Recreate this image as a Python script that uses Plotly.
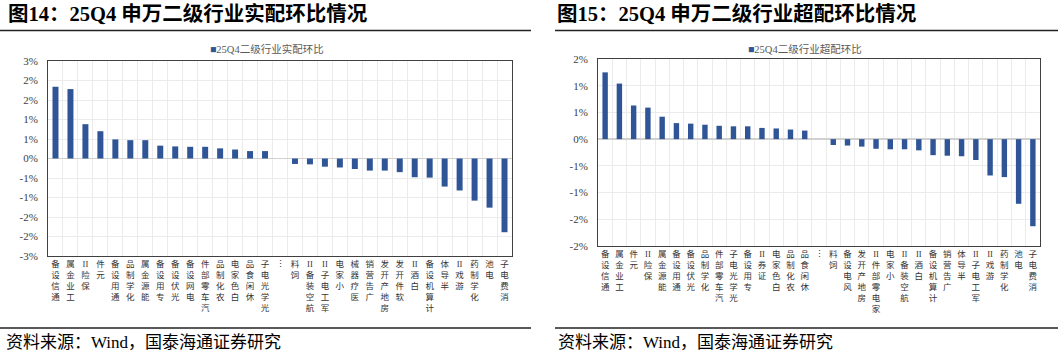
import plotly.graph_objects as go

W, H = 1062, 355

# ---------------- data ----------------
title_left = "图14：25Q4 申万二级行业实配环比情况"
title_right = "图15：25Q4 申万二级行业超配环比情况"
series_left = "25Q4二级行业实配环比"
series_right = "25Q4二级行业超配环比"
source_text = "资料来源：Wind，国泰海通证券研究"

cats_left = ["通信设备", "工业金属", "保险II", "元件", "通用设备", "化学制品", "能源金属",
             "专用设备", "光伏设备", "电网设备", "汽车零部件", "农化制品", "白色家电", "休闲食品",
             "光学光电子", "…", "饲料", "航空装备II", "军工电子II", "小家电", "医疗器械", "广告营销",
             "房地产开发", "软件开发", "白酒II", "计算机设备", "半导体", "游戏II", "化学制药", "电池",
             "消费电子"]
vals_left = [1.84, 1.78, 0.88, 0.70, 0.49, 0.47, 0.47, 0.33, 0.31, 0.30, 0.30, 0.26, 0.23, 0.19,
             0.19, None, -0.14, -0.15, -0.21, -0.23, -0.27, -0.31, -0.31, -0.35, -0.48, -0.49,
             -0.72, -0.82, -1.08, -1.26, -1.89]

cats_right = ["通信设备", "工业金属", "元件", "保险II", "能源金属", "通用设备", "光伏设备",
              "化学制品", "汽车零部件", "光学光电子", "专用设备", "证券II", "白色家电", "农化制品",
              "休闲食品", "…", "饲料", "风电设备", "房地产开发", "家电零部件II", "小家电", "航空装备II",
              "白酒II", "计算机设备", "广告营销", "半导体", "军工电子II", "游戏II", "化学制药", "电池",
              "消费电子"]
vals_right = [1.25, 1.04, 0.63, 0.59, 0.42, 0.30, 0.29, 0.27, 0.25, 0.24, 0.24, 0.21, 0.20, 0.18,
              0.16, None, -0.11, -0.12, -0.14, -0.18, -0.19, -0.19, -0.21, -0.30, -0.31, -0.32,
              -0.39, -0.68, -0.71, -1.21, -1.63]

yticks_left = [-2.5, -2.0, -1.5, -1.0, -0.5, 0.0, 0.5, 1.0, 1.5, 2.0, 2.5]
ytext_left = ["-3%", "-2%", "-2%", "-1%", "-1%", "0%", "1%", "1%", "2%", "2%", "3%"]
yticks_right = [-2.0, -1.5, -1.0, -0.5, 0.0, 0.5, 1.0, 1.5]
ytext_right = ["-2%", "-2%", "-1%", "-1%", "0%", "1%", "1%", "2%"]

# ---------------- style ----------------
BAR = "#2f5597"
CJK_SERIF = "Liberation Serif, Noto Sans CJK SC"
AXIS_LINE = "#404040"
GRID = "#ebebeb"


def vertical_label(name):
    """Stack characters upright, reading bottom-to-top (last char at top)."""
    if name == "…":
        return "⋮"
    tokens = []
    i = 0
    while i < len(name):
        if name[i:i + 2] == "II":
            tokens.append("II")
            i += 2
        else:
            tokens.append(name[i])
            i += 1
    return "<br>".join(reversed(tokens))


def px_x(p):
    return p / W


def px_y(p):
    return 1 - p / H


fig = go.Figure()
fig.add_trace(go.Bar(x=cats_left, y=vals_left, name=series_left, marker_color=BAR,
                     marker_line_width=0, width=0.4, xaxis="x", yaxis="y", showlegend=False))
fig.add_trace(go.Bar(x=cats_right, y=vals_right, name=series_right, marker_color=BAR,
                     marker_line_width=0, width=0.38, xaxis="x2", yaxis="y2", showlegend=False))

xcommon = dict(type="category", tickson="boundaries", ticks="", showgrid=True, gridcolor=GRID,
               gridwidth=1, showline=True, mirror=True, linecolor=AXIS_LINE, linewidth=1,
               tickangle=0, tickfont=dict(family=CJK_SERIF, size=8.5, color="#333333"),
               automargin=False, fixedrange=True)
ycommon = dict(ticks="", showgrid=True, gridcolor=GRID, gridwidth=1, showline=True, mirror=True,
               linecolor=AXIS_LINE, linewidth=1, zeroline=True, zerolinecolor="#d0d0d0",
               zerolinewidth=1.5, tickfont=dict(family="Liberation Serif", size=11, color="#404040"),
               ticklabelstandoff=7, automargin=False, fixedrange=True)

fig.update_layout(
    width=W, height=H, autosize=False,
    margin=dict(l=0, r=0, t=0, b=0),
    paper_bgcolor="white", plot_bgcolor="white",
    hovermode=False,
    xaxis=dict(xcommon, domain=[px_x(48), px_x(512)], anchor="y",
               tickvals=cats_left, ticktext=[vertical_label(c) for c in cats_left]),
    yaxis=dict(ycommon, domain=[px_y(256), px_y(61)], anchor="x", range=[-2.5, 2.5],
               tickvals=yticks_left, ticktext=ytext_left),
    xaxis2=dict(xcommon, domain=[px_x(598), px_x(1040)], anchor="y2",
                tickvals=cats_right, ticktext=[vertical_label(c) for c in cats_right]),
    yaxis2=dict(ycommon, domain=[px_y(246), px_y(59)], anchor="x2", range=[-2.0, 1.5],
                tickvals=yticks_right, ticktext=ytext_right),
)

annotations = []
# titles
for x0, txt in [(6, title_left), (555, title_right)]:
    annotations.append(dict(x=px_x(x0), y=px_y(14), xref="paper", yref="paper", xanchor="left",
                            yanchor="middle", showarrow=False, text=txt,
                            font=dict(family=CJK_SERIF, size=20.5, color="#000000", weight="bold")))
# legends
for xc, txt in [(267, series_left), (805, series_right)]:
    annotations.append(dict(x=px_x(xc), y=px_y(49), xref="paper", yref="paper", xanchor="center",
                            yanchor="middle", showarrow=False,
                            text="<span style='color:%s'>■</span>%s" % (BAR, txt),
                            font=dict(family=CJK_SERIF, size=10.5, color="#595959")))
# sources
for x0 in [4, 556]:
    annotations.append(dict(x=px_x(x0), y=px_y(342), xref="paper", yref="paper", xanchor="left",
                            yanchor="middle", showarrow=False, text=source_text,
                            font=dict(family=CJK_SERIF, size=17, color="#000000")))
fig.update_layout(annotations=annotations)

shapes = []
for (a, b) in [(0, 531), (555, 1058)]:
    shapes.append(dict(type="line", xref="paper", yref="paper", x0=px_x(a), x1=px_x(b),
                       y0=px_y(30.5), y1=px_y(30.5), line=dict(color="#222222", width=1.5)))
    shapes.append(dict(type="line", xref="paper", yref="paper", x0=px_x(a), x1=px_x(b),
                       y0=px_y(328), y1=px_y(328), line=dict(color="#222222", width=1.5)))
fig.update_layout(shapes=shapes)

fig.write_html("out.html", include_plotlyjs=True,
               config={"displayModeBar": False, "staticPlot": True},
               post_script="document.body.style.margin='0';document.body.style.overflow='hidden';")
